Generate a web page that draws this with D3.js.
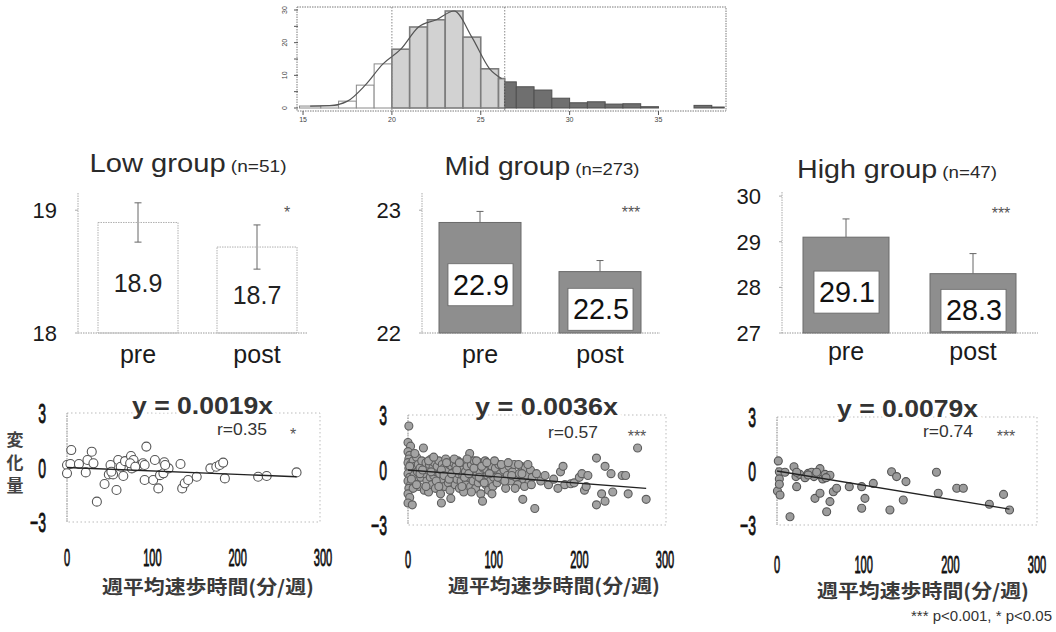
<!DOCTYPE html>
<html><head><meta charset="utf-8">
<script src="https://cdn.jsdelivr.net/npm/d3@7"></script>
<style>
body{margin:0;background:#fff}
svg{display:block}
text{font-family:"Liberation Sans",Arial,sans-serif;fill:#1a1a1a}
</style>
</head><body>
<svg id="c" width="1056" height="632"></svg>
<script>
// ================= DATA =================
// Histogram (top)
const histEdges  = [14.8,16,17,18,19,20,21,22,23,24,25,26,26.35,27,28,29,30,31,32,33,34,35,36,37,38,38.7];
const histValues = [0.6,0.7,2.1,7,13.5,18,24.8,27,29.7,21.7,12,9,8,6.5,5.5,3,1.6,1.9,1.2,1.3,0.4,0,0,0.8,0.3];
const histCuts   = [20, 26.35];
const histXTicks = [15,20,25,30,35];
const histYTicks = [0,5,10,15,20,25,30];
const histYLabels = [0,10,20,30];

// Bar charts (middle)
const groupNames  = ["Low group","Mid group","High group"];
const groupN      = [51,273,47];
const phases      = ["pre","post"];
const lowMeans    = [18.9,18.7];
const midMeans    = [22.9,22.5];
const highMeans   = [29.1,28.3];
const lowSE       = [0.16,0.18];
const midSE       = [0.09,0.09];
const highSE      = [0.40,0.44];
const lowTicks    = [18,19];
const midTicks    = [22,23];
const highTicks   = [27,28,29,30];
const barSig      = ["*","***","***"];

// Scatter plots (bottom)
const scatterXTicks = [0,100,200,300];
const scatterYTicks = [-3,0,3];
const slopes        = [-0.0019,-0.0036,-0.0079];
const slopeLabels   = ["y = 0.0019x","y = 0.0036x","y = 0.0079x"];
const rValues       = [0.35,0.57,0.74];
const scatterSig    = ["*","***","***"];
const xAxisTitle    = "週平均速歩時間(分/週)";
const yAxisTitle    = ["変","化","量"];
const footnote      = "*** p<0.001, * p<0.05";

const lowPoints = [[0,0.14],[0,-0.32],[5,0.96],[4,0.19],[14,0.19],[22,-0.27],[24,0.41],[29,0.87],[31,0.23],[35,-1.88],
 [44,-0.91],[49,-0.38],[51,0.14],[54,-0.38],[58,-1.24],[60,0.41],[63,0.04],[66,-0.47],[68,0.35],[75,0.63],
 [76,-0.05],[78,0.41],[86,0.14],[89,0.23],[91,0.14],[93,1.15],[91,-0.69],[101,-0.69],[103,0.41],[107,-1.15],
 [109,-0.42],[113,-0.32],[114,0.29],[119,-0.05],[115,0.14],[133,0.19],[135,-1.15],[138,-0.87],[142,-0.69],[152,-0.51],
 [168,-0.05],[175,0.04],[179,0.14],[183,0.27],[185,-0.6],[224,-0.51],[234,-0.47],[269,-0.27],[74,0.23],[80,0.04],[52,-0.23]];

const midPoints = [[1,2.4],[0,1.5],[3,1.3],[0,1.0],[2,0.8],[1,0.6],[0,0.4],[3,0.3],[1,0.1],[4,0],[0,-0.2],[2,-0.4],[0,-0.6],[3,-0.8],[1,-1.0],
 [0,-1.3],[2,-1.5],[0,-1.8],[5,-1.9],[6,0.5],[7,-0.3],[8,0.2],[9,-0.6],[10,0.7],[11,-0.1],[12,0.3],[13,-0.9],[14,0.1],[15,-0.4],[16,0.5],
 [18,1.2],[19,-1.1],[20,-0.2],[21,0.4],[22,-0.6],[23,0.0],[24,-1.2],[25,0.3],[26,-0.4],[27,0.6],[28,-0.8],[29,0.1],[30,-0.3],[31,0.4],[32,-1.0],
 [33,-0.1],[34,0.2],[35,-0.6],[36,0.5],[37,-0.2],[38,-1.3],[39,-1.8],[40,0.3],[41,-0.5],[42,0.1],[43,-0.9],[44,0.6],[45,-0.3],[46,0.0],[47,-0.7],
 [48,0.3],[49,-1.1],[50,-1.55],[51,0.2],[52,-0.4],[53,0.4],[54,-0.1],[55,-0.8],[56,0.2],[57,-0.5],[58,0.5],[59,-0.2],[60,-1.0],
 [61,0.3],[62,-0.6],[63,0.1],[64,-0.3],[65,-1.2],[66,0.4],[67,-0.1],[68,-0.7],[69,0.2],[70,-0.4],[72,0.9],[73,-0.9],[74,0.3],[75,-0.2],[76,-0.6],
 [77,0.5],[78,0.0],[79,-1.0],[80,-0.3],[81,0.2],[82,-0.7],[83,0.4],[84,-0.1],[85,-1.3],[86,-0.5],[87,-1.7],[88,0.1],[89,-0.4],[90,0.5],[91,-0.8],
 [92,0.0],[93,-0.3],[94,-1.1],[95,0.3],[96,-0.6],[97,-0.1],[98,0.2],[99,-0.9],[100,-0.4],
 [102,0.1],[104,-0.7],[106,0.3],[108,-0.2],[110,-0.5],[112,0.0],[114,-1.0],[116,-0.3],[118,0.2],[120,-0.6],[122,-0.1],[124,0.3],[126,-0.4],[128,-0.8],
 [130,-0.2],[132,0.2],[134,-1.6],[135,-0.5],[137,0.1],[139,-0.3],[141,-0.7],[143,0.0],[145,-0.4],[148,-2.1],[150,-0.2],
 [155,-0.6],[160,-0.3],[164,-0.8],[170,-0.5],[175,-1.0],[178,-0.1],[181,0.2],[183,-0.8],[190,-0.75],[194,-0.7],[200,-0.4],[203,-0.2],[206,-1.1],
 [208,-0.9],[210,-0.3],[220,0.65],[220,-1.9],[226,-1.3],[230,0.2],[230,-1.7],[237,-0.2],[239,-1.2],[250,-0.3],[254,-0.3],[257,-1.3],[268,1.2],[278,-1.6],
 [2,0.2],[4,-0.5],[6,-1.0],[8,0.9],[10,-0.8],[14,-0.2],[17,0.0],[21,-0.9],[24,0.5],[27,-0.1],[30,0.7],[33,-0.6],[36,-0.9],[39,0.0],[42,-0.3],
 [45,0.4],[48,-0.5],[51,-0.2],[54,0.6],[57,0.0],[60,0.4],[63,-0.9],[66,-0.4],[69,0.6],[71,-0.2],[74,-1.2],[77,0.1],[80,0.5],[83,-0.4],[86,0.2],
 [89,-0.7],[92,0.4],[95,-0.2],[98,-1.3],[101,0.5],[105,-0.4],[109,0.3],[113,-0.6],[117,0.4],[121,-0.3],[125,-1.0],[129,0.3],[133,-0.2],[136,-0.9],
 [140,0.3],[144,-0.8]];

const highPoints = [[1.5,0.56],[2.7,-0.04],[2.7,-0.44],[0.5,-1.11],[3.5,-1.33],[9.2,-0.07],[15,-2.54],[19.6,0.24],[21.9,-0.31],[22.7,-0.87],
 [26.5,-0.19],[32.3,-0.37],[36.1,-0.13],[40,-0.07],[42.7,-0.31],[43.8,-1.52],[49.6,-1.24],[49.6,0.13],[52.7,-0.44],[55.4,-0.19],
 [57.3,-2.26],[61.1,-1.7],[61.1,-0.24],[65,-1.15],[68.8,-0.96],[83.4,-0.87],[97.7,-0.87],[97.7,-2.07],[101.5,-1.52],[111.1,-0.69],
 [130.3,-2.17],[132.2,-0.04],[138,-0.31],[148.8,-0.59],[145.7,-1.61],[184,-0.07],[186,-1.24],[207.4,-0.96],[215,-0.96],[245,-1.85],
 [261.4,-1.3],[268.3,-2.17],[36,-0.22],[45.7,-0.07],[22.7,-0.07],[56.6,-0.37],[2.7,-0.74]];

// ================= DRAWING =================
const svg = d3.select("#c");

// ---------- Histogram ----------
{
  const x = d3.scaleLinear().domain([14.66, 38.8]).range([297, 726]);
  const y = d3.scaleLinear().domain([0, 30]).range([108, 10]);
  const g = svg.append("g");
  const bins = histValues.map((v,i)=>({x0:histEdges[i], x1:histEdges[i+1], v}));
  const cls = b => b.x0 < histCuts[0] ? "low" : (b.x0 < histCuts[1] ? "mid" : "high");
  const fill = {low:"#ffffff", mid:"#d2d2d2", high:"#6f6f6f"};
  const stroke = {low:"#8a8a8a", mid:"#7d7d7d", high:"#505050"};
  g.selectAll("rect.hb").data(bins).join("rect")
    .attr("x", b=>x(b.x0)).attr("width", b=>x(b.x1)-x(b.x0))
    .attr("y", b=>y(b.v)).attr("height", b=>y(0)-y(b.v))
    .attr("fill", b=>fill[cls(b)])
    .attr("stroke", b=>stroke[cls(b)])
    .attr("stroke-width", b=>cls(b)==="mid"?1.6:1);
  const curvePts = bins.filter(b=>b.x0 < histCuts[1]).map(b=>[(b.x0+b.x1)/2, b.v]);
  g.append("path").datum(curvePts)
    .attr("d", d3.line().x(d=>x(d[0])).y(d=>y(d[1])).curve(d3.curveMonotoneX))
    .attr("fill","none").attr("stroke","#555").attr("stroke-width",1.2);
  g.selectAll("line.cut").data(histCuts).join("line")
    .attr("x1", d=>x(d)).attr("x2", d=>x(d)).attr("y1", 7).attr("y2", 111)
    .attr("stroke","#888").attr("stroke-dasharray","1.5,1.5");
  g.append("rect").attr("x",297).attr("y",7).attr("width",429).attr("height",104)
    .attr("fill","none").attr("stroke","#7a7a7a").attr("stroke-dasharray","1.5,1");
  g.selectAll("line.xt").data(histXTicks).join("line")
    .attr("x1",d=>x(d)).attr("x2",d=>x(d)).attr("y1",111).attr("y2",115)
    .attr("stroke","#555");
  g.selectAll("text.xt").data(histXTicks).join("text")
    .attr("x",d=>x(d)).attr("y",122).attr("text-anchor","middle")
    .attr("font-size",7).style("fill","#444").text(d=>d);
  g.selectAll("line.yt").data(histYTicks).join("line")
    .attr("x1",294).attr("x2",298).attr("y1",d=>y(d)).attr("y2",d=>y(d))
    .attr("stroke","#555");
  g.selectAll("text.yt").data(histYLabels).join("text")
    .attr("transform",d=>`translate(287,${y(d)}) rotate(-90)`)
    .attr("text-anchor","middle").attr("font-size",7).style("fill","#444").text(d=>d);
}

// ---------- Bar charts ----------
const barPanels = [
  {means:lowMeans, se:lowSE, ticks:lowTicks, dom:[18,19.14], top:193, axisX:78, centers:[138,257], w:80, baseEnd:307,
   titleX:188, titleY:172, titleW:197, dark:false, sigX:287, sigY:218, fullErr:true},
  {means:midMeans, se:midSE, ticks:midTicks, dom:[22,23.14], top:193, axisX:422, centers:[480,600], w:82, baseEnd:660,
   titleX:542, titleY:175, titleW:195, dark:true, sigX:631, sigY:218},
  {means:highMeans, se:highSE, ticks:highTicks, dom:[27,30.09], top:192, axisX:782, centers:[846,973], w:86, baseEnd:1038,
   titleX:897, titleY:178, titleW:200, dark:true, sigX:1001, sigY:219}
];
barPanels.forEach((p,i)=>{
  const g = svg.append("g");
  const y = d3.scaleLinear().domain(p.dom).range([333, p.top]);
  const x = d3.scalePoint().domain(phases).range(p.centers);
  const t = g.append("text").attr("x",p.titleX).attr("y",p.titleY).attr("text-anchor","middle")
    .attr("textLength",p.titleW).attr("lengthAdjust","spacingAndGlyphs").style("fill","#2a2a2a");
  t.append("tspan").attr("font-size",26).text(groupNames[i]);
  t.append("tspan").attr("font-size",17).text(` (n=${groupN[i]})`);
  g.append("line").attr("x1",p.axisX).attr("x2",p.axisX).attr("y1",p.top).attr("y2",333)
    .attr("stroke","#aaa").attr("stroke-dasharray","1.5,1");
  g.append("line").attr("x1",p.axisX).attr("x2",p.baseEnd).attr("y1",333).attr("y2",333)
    .attr("stroke","#999").attr("stroke-dasharray","1.5,1");
  g.selectAll("line.tk").data(p.ticks).join("line")
    .attr("x1",p.axisX-3).attr("x2",p.axisX).attr("y1",d=>y(d)).attr("y2",d=>y(d)).attr("stroke","#aaa");
  g.selectAll("text.tk").data(p.ticks).join("text")
    .attr("x",p.axisX-21).attr("y",d=>y(d)+8).attr("text-anchor","end")
    .attr("font-size",22).text(d=>d);
  const data = phases.map((ph,j)=>({ph, m:p.means[j], se:p.se[j]}));
  const eg = g.selectAll("g.err").data(data).join("g").attr("stroke","#666").attr("stroke-width",1);
  eg.append("line").attr("x1",d=>x(d.ph)).attr("x2",d=>x(d.ph))
    .attr("y1",d=>y(d.m+d.se)).attr("y2",d=>y(p.fullErr? d.m-d.se : d.m));
  eg.append("line").attr("x1",d=>x(d.ph)-3.5).attr("x2",d=>x(d.ph)+3.5)
    .attr("y1",d=>y(d.m+d.se)).attr("y2",d=>y(d.m+d.se));
  if(p.fullErr) eg.append("line").attr("x1",d=>x(d.ph)-3.5).attr("x2",d=>x(d.ph)+3.5)
    .attr("y1",d=>y(d.m-d.se)).attr("y2",d=>y(d.m-d.se));
  g.selectAll("rect.bar").data(data).join("rect")
    .attr("x",d=>x(d.ph)-p.w/2).attr("width",p.w)
    .attr("y",d=>y(d.m)).attr("height",d=>333-y(d.m))
    .attr("fill", p.dark ? "#8e8e8e" : "none")
    .attr("stroke", p.dark ? "#6a6a6a" : "#b0b0b0")
    .attr("stroke-dasharray", p.dark ? null : "1.5,1");
  if(p.dark){
    g.selectAll("rect.vb").data(data).join("rect")
      .attr("x",d=>x(d.ph)-32).attr("width",65)
      .attr("y",d=>(y(d.m)+333)/2-14).attr("height",d=> Math.min(42, 333-((y(d.m)+333)/2-14)-1))
      .attr("fill","#fff").attr("stroke","#666").attr("stroke-width",0.8);
    g.selectAll("text.val").data(data).join("text")
      .attr("x",d=>x(d.ph)+1).attr("y",d=>(y(d.m)+333)/2+17)
      .attr("text-anchor","middle").attr("font-size",29)
      .attr("textLength",56).attr("lengthAdjust","spacingAndGlyphs")
      .style("fill","#111").text(d=>d.m.toFixed(1));
  } else {
    g.selectAll("text.val").data(data).join("text")
      .attr("x",d=>x(d.ph)).attr("y",d=>(y(d.m)+333)/2+14)
      .attr("text-anchor","middle").attr("font-size",25)
      .style("fill","#222").text(d=>d.m.toFixed(1));
  }
  g.selectAll("text.cat").data(phases).join("text")
    .attr("x",d=>x(d)).attr("y",i===2?360:363).attr("text-anchor","middle")
    .attr("font-size",25).style("fill","#1a1a1a").text(d=>d);
  g.append("text").attr("x",p.sigX).attr("y",p.sigY).attr("text-anchor","middle")
    .attr("font-size",16).style("fill","#555").text(barSig[i]);
});

// ---------- Scatter plots ----------
const scPanels = [
  {pts:lowPoints, x0:67, x1:323, top:413, bot:522, right:320, fX:132, fY:414, fW:141, rX:217, rY:435, sX:293, sY:440,
   titleX:208, titleY:594, r:4.5, fill:"#ffffff", stroke:"#555"},
  {pts:midPoints, x0:408, x1:665, top:415, bot:525, right:666, fX:475, fY:415, fW:143, rX:548, rY:438, sX:637, sY:442,
   titleX:554, titleY:593, r:4, fill:"#a3a3a3", stroke:"#5e5e5e"},
  {pts:highPoints, x0:777, x1:1037, top:417, bot:525, right:1037, fX:837, fY:417, fW:141, rX:923, rY:437, sX:1006, sY:442,
   titleX:923, titleY:598, r:4, fill:"#9c9c9c", stroke:"#555"}
];
const xTickDy = [44, 43, 48];
scPanels.forEach((p,i)=>{
  const g = svg.append("g");
  const x = d3.scaleLinear().domain([0,300]).range([p.x0,p.x1]);
  const y = d3.scaleLinear().domain([-3,3]).range([p.bot,p.top]);
  g.append("rect").attr("x",p.x0).attr("y",p.top).attr("width",p.right-p.x0).attr("height",p.bot-p.top)
    .attr("fill","none").attr("stroke","#bbb").attr("stroke-dasharray","1.5,2.5");
  g.append("line").attr("x1",p.x0).attr("x2",p.x0).attr("y1",p.top).attr("y2",p.bot)
    .attr("stroke","#999").attr("stroke-dasharray","1.5,1");
  g.selectAll("circle").data(p.pts).join("circle")
    .attr("cx",d=>x(d[0])).attr("cy",d=>y(d[1])).attr("r",p.r)
    .attr("fill",p.fill).attr("stroke",p.stroke).attr("stroke-width",1.1);
  const xmax = d3.max(p.pts,d=>d[0]);
  g.append("line").attr("x1",x(0)).attr("y1",y(0))
    .attr("x2",x(xmax)).attr("y2",y(slopes[i]*xmax))
    .attr("stroke","#222").attr("stroke-width",1.4);
  // condensed tick labels
  g.selectAll("text.xt").data(scatterXTicks).join("text")
    .attr("transform",d=>`translate(${x(d)},${p.bot+xTickDy[i]}) scale(0.46,1)`)
    .attr("text-anchor","middle").attr("font-size",24)
    .style("fill","#111").style("stroke","#111").style("stroke-width",0.9)
    .text(d=>d);
  g.selectAll("text.yt").data(scatterYTicks).join("text")
    .attr("transform",d=>`translate(${p.x0-21},${y(d)+10}) scale(0.5,1)`)
    .attr("text-anchor","end").attr("font-size",28)
    .style("fill","#111").style("stroke","#111").style("stroke-width",0.9)
    .text(d=>d<0? "−"+Math.abs(d) : d);
  g.append("text").attr("x",p.fX).attr("y",p.fY).attr("font-size",23).attr("font-weight","bold")
    .attr("textLength",p.fW).attr("lengthAdjust","spacingAndGlyphs")
    .style("fill","#333").style("stroke","#fff").style("stroke-width",5).style("paint-order","stroke")
    .text(slopeLabels[i]);
  g.append("text").attr("x",p.rX).attr("y",p.rY).attr("font-size",16)
    .attr("textLength",50).attr("lengthAdjust","spacingAndGlyphs").style("fill","#333")
    .text(`r=${rValues[i].toFixed(2)}`);
  g.append("text").attr("x",p.sX).attr("y",p.sY).attr("text-anchor","middle")
    .attr("font-size",16).style("fill","#555").text(scatterSig[i]);
  g.append("text").attr("x",p.titleX).attr("y",p.titleY).attr("text-anchor","middle")
    .attr("font-size",19).attr("font-weight","bold")
    .style("font-family","'Noto Sans CJK JP','Noto Sans CJK SC',sans-serif").style("fill","#3a3a3a")
    .attr("textLength",212).attr("lengthAdjust","spacingAndGlyphs")
    .text(xAxisTitle);
});

// y axis title (vertical)
svg.append("g").selectAll("text").data(yAxisTitle).join("text")
  .attr("x",15).attr("y",(d,i)=>446+i*23).attr("text-anchor","middle")
  .attr("font-size",17).attr("font-weight","bold")
  .style("font-family","'Noto Sans CJK JP',sans-serif").style("fill","#444")
  .text(d=>d);

// footnote
svg.append("text").attr("x",1052).attr("y",621).attr("text-anchor","end")
  .attr("font-size",15).style("fill","#333").text(footnote);
</script>
</body></html>
